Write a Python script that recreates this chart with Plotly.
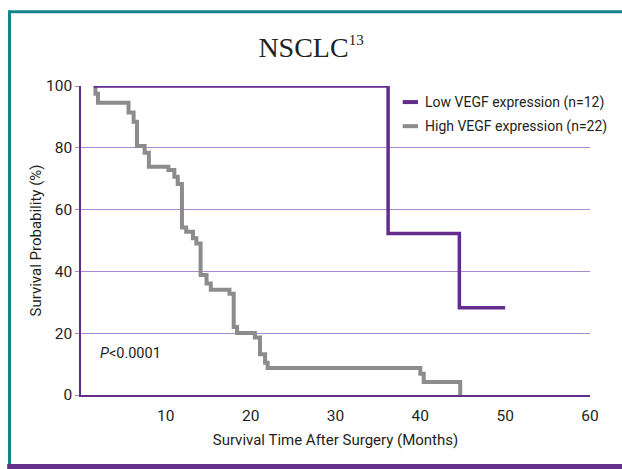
import plotly.graph_objects as go

# Kaplan-Meier survival curves, NSCLC by VEGF expression
low_name = "Low VEGF expression (n=12)"
low_months = [1.5, 36.2, 44.6, 50.0]
low_surv = [100, 52.3, 28.2, 28.2]

high_name = "High VEGF expression (n=22)"
high_months = [1.6, 1.7, 2.0, 5.6, 6.2, 6.6, 7.5, 8.0, 10.3, 11.0, 11.4, 11.9, 12.4,
               13.2, 13.6, 14.1, 14.8, 15.3, 17.5, 18.0, 18.4, 20.5, 21.1, 21.7,
               22.0, 40.0, 40.4, 44.7]
high_surv = [100, 97.5, 94.6, 91.4, 88.4, 80.6, 78.4, 73.9, 72.8, 70.6, 68.3, 54.2,
             52.8, 50.7, 49.0, 38.8, 36.1, 34.1, 32.8, 22.0, 20.1, 18.6, 13.2, 10.4,
             8.7, 6.9, 4.2, 0]

x_ticks = [10, 20, 30, 40, 50, 60]
y_ticks = [0, 20, 40, 60, 80, 100]

PURPLE = "#622d8b"
GRAY = "#8c8c8c"
GRID = "#a98bcb"
TEAL = "#13858a"
FONT = "Roboto, sans-serif"
INK = "#231f20"

fig = go.Figure()
fig.add_trace(go.Scatter(x=high_months, y=high_surv, mode="lines", line_shape="hv",
                         line=dict(color=GRAY, width=4), name=high_name,
                         cliponaxis=False))
fig.add_trace(go.Scatter(x=low_months, y=low_surv, mode="lines", line_shape="hv",
                         line=dict(color=PURPLE, width=3.5), name=low_name,
                         cliponaxis=False))

# legend drawn by hand: short thick bars beside the labels
legend_rows = [(low_name, PURPLE, 0.948), (high_name, GRAY, 0.87)]
shapes = []
annotations = []
for name, color, yp in legend_rows:
    shapes.append(dict(type="line", xref="paper", yref="paper", x0=0.632, x1=0.662,
                       y0=yp, y1=yp, line=dict(color=color, width=4)))
    annotations.append(dict(text=name, xref="paper", yref="paper", x=0.672, y=yp,
                            xanchor="left", yanchor="middle", showarrow=False,
                            font=dict(family=FONT, size=14, color=INK)))

annotations.append(dict(text="<i>P</i><0.0001", xref="paper", yref="paper",
                        x=0.034, y=0.133, xanchor="left", yanchor="middle",
                        showarrow=False,
                        font=dict(family=FONT, size=14.5, color=INK)))

# frame: teal border top/left, purple bar along the bottom
shapes += [
    dict(type="line", xref="paper", yref="paper", x0=-0.1405, x1=1.07, y0=1.2405, y1=1.2405,
         line=dict(color=TEAL, width=3)),
    dict(type="line", xref="paper", yref="paper", x0=-0.1405, x1=-0.1405, y0=-0.225, y1=1.245,
         line=dict(color=TEAL, width=3)),
    dict(type="rect", xref="paper", yref="paper", x0=-0.145, x1=1.07, y0=-0.245, y1=-0.2235,
         line=dict(width=0), fillcolor="#65308b"),
]

fig.update_layout(
    width=622, height=469,
    margin=dict(l=81, r=32, t=86, b=74),
    paper_bgcolor="white", plot_bgcolor="white",
    showlegend=False,
    title=dict(text="NSCLC<sup><span style='font-size:15px'>13</span></sup>",
               x=0.5, xanchor="center", y=0.9, yanchor="middle",
               font=dict(family="Liberation Serif, DejaVu Serif, serif", size=28, color=INK)),
    shapes=shapes,
    annotations=annotations,
)
fig.update_xaxes(range=[0, 60], tickvals=x_ticks, showgrid=False, zeroline=False,
                 showline=True, linecolor=PURPLE, linewidth=1.5,
                 ticks="", ticklabelstandoff=6,
                 tickfont=dict(family=FONT, size=15.5, color=INK),
                 title=dict(text="Survival Time After Surgery (Months)", standoff=10,
                            font=dict(family=FONT, size=15, color=INK)))
fig.update_yaxes(range=[0, 100], tickvals=y_ticks, showgrid=True, gridcolor=GRID,
                 gridwidth=1.2, zeroline=False, showline=True, linecolor=PURPLE,
                 linewidth=1.5, ticks="outside", ticklen=4, tickcolor=GRID,
                 tickfont=dict(family=FONT, size=15.5, color=INK),
                 title=dict(text="Survival Probability (%)", standoff=1,
                            font=dict(family=FONT, size=15, color=INK)))

fig.write_html("out.html")
